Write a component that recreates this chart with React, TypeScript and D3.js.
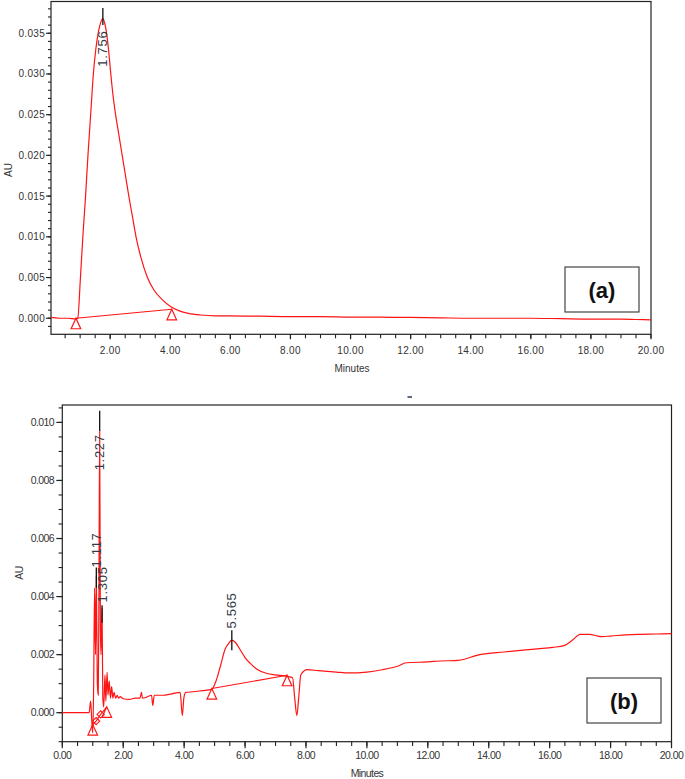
import React from "react";
import * as d3 from "d3";

// ---------- Chart (a) data ----------
const timeA = [0.03, 0.3, 0.6, 0.85, 0.92, 1.01, 1.09, 1.18, 1.26, 1.35, 1.44, 1.52, 1.61, 1.69, 1.756, 1.82, 1.88, 1.95, 2.02, 2.1, 2.18, 2.29, 2.4, 2.51, 2.62, 2.74, 2.86, 3.02, 3.24, 3.45, 3.74, 4.02, 4.3, 4.6, 5.0, 5.5, 6.0, 7.0, 8.0, 9.0, 10.0, 11.0, 12.0, 13.0, 14.0, 15.0, 16.0, 17.0, 18.0, 19.0, 19.5, 20.0];
const auA = [0.0001, 0.0, 0.0, -0.0001, 0.0, 0.005, 0.01, 0.015, 0.02, 0.025, 0.03, 0.033, 0.0352, 0.0364, 0.0368, 0.0362, 0.035, 0.0328, 0.03, 0.0272, 0.025, 0.0225, 0.02, 0.0175, 0.015, 0.0125, 0.01, 0.0075, 0.005, 0.0035, 0.00225, 0.0014, 0.0009, 0.0006, 0.0004, 0.0003, 0.0003, 0.00025, 0.0002, 0.0002, 0.00015, 0.00015, 0.0001, 0.00005, 0.0, 0.0, 0.0, -0.00005, -0.0001, -0.0001, -0.00015, -0.0002];
const baselineTimeA = [0.86, 4.05];
const baselineAuA = [0.0, 0.0011];
const yTickLabelsA = [0, 0.005, 0.01, 0.015, 0.02, 0.025, 0.03, 0.035];
const xTickLabelsA = [2, 4, 6, 8, 10, 12, 14, 16, 18, 20];
const peakA = [{ rt: 1.756, label: "1.756", tickTop: 0.0381, tickBot: 0.036, labelLo: 0.0309 }];

// ---------- Chart (b) data ----------
const timeB = [0.0, 0.5, 0.88, 0.93, 0.97, 1.0, 1.03, 1.06, 1.09, 1.117, 1.15, 1.18, 1.2, 1.227, 1.25, 1.27, 1.305, 1.33, 1.36, 1.4, 1.43, 1.47, 1.5, 1.54, 1.58, 1.62, 1.66, 1.7, 1.75, 1.8, 1.85, 1.9, 2.0, 2.2, 2.4, 2.55, 2.6, 2.63, 2.8, 2.93, 2.97, 3.02, 3.3, 3.6, 3.87, 3.94, 3.99, 4.05, 4.3, 4.6, 4.9, 5.05, 5.19, 5.35, 5.47, 5.565, 5.7, 5.85, 6.0, 6.17, 6.39, 6.72, 7.0, 7.38, 7.56, 7.63, 7.7, 7.76, 7.83, 8.04, 8.4, 9.0, 9.4, 10.0, 10.5, 11.0, 11.3, 12.0, 12.4, 13.0, 13.7, 14.5, 15.6, 16.1, 16.49, 16.75, 17.0, 17.3, 17.7, 18.0, 18.5, 18.9, 19.5, 20.0];
const auB = [0.0, 0.0, 0.0, 0.0004, -0.0003, -0.0007, 0.001, 0.0043, 0.002, 0.0047, 0.001, 0.0006, 0.0035, 0.0097, 0.003, 0.002, 0.0036, 0.0005, 0.0002, 0.0013, 0.0004, 0.0014, 0.0006, 0.0011, 0.0005, 0.0009, 0.0005, 0.0007, 0.0005, 0.0006, 0.0005, 0.00055, 0.00048, 0.00046, 0.0005, 0.0005, 0.0007, 0.0005, 0.00055, 0.0006, 0.00025, 0.0006, 0.0006, 0.00065, 0.0007, -0.0001, 0.0005, 0.0007, 0.00072, 0.00076, 0.0008, 0.0011, 0.0016, 0.0022, 0.0024, 0.0025, 0.0024, 0.00215, 0.0019, 0.0017, 0.0015, 0.00135, 0.0013, 0.00125, 0.0012, 0.0005, -0.0001, 0.0005, 0.0013, 0.00148, 0.00145, 0.0014, 0.00137, 0.0014, 0.00148, 0.0016, 0.00172, 0.00175, 0.00178, 0.0018, 0.002, 0.00209, 0.0022, 0.00225, 0.00232, 0.0025, 0.0027, 0.0027, 0.00262, 0.00264, 0.00268, 0.0027, 0.00271, 0.00272];
const baselineTimeB1 = [1.0, 1.11, 1.26, 1.46];
const baselineAuB1 = [-0.00041, -0.00029, -0.00006, 0.0002];
const baselineTimeB2 = [4.91, 7.38];
const baselineAuB2 = [0.00083, 0.00129];
const triangleB = [
  { t: 1.0, v: -0.00041 },
  { t: 1.46, v: 0.0002 },
  { t: 4.91, v: 0.00083 },
  { t: 7.38, v: 0.00129 },
];
const diamondB = [
  { t: 1.11, v: -0.00029 },
  { t: 1.26, v: -0.00006 },
];
const yTickLabelsB = [0, 0.002, 0.004, 0.006, 0.008, 0.01];
const xTickLabelsB = [0, 2, 4, 6, 8, 10, 12, 14, 16, 18, 20];
const peakB = [
  { rt: 1.227, label: "1.227", tickTop: 0.0104, tickBot: 0.0097, labelLo: 0.00835 },
  { rt: 1.117, label: "1.117", tickTop: 0.005, tickBot: 0.0043, labelLo: 0.005 },
  { rt: 1.305, label: "1.305", tickTop: 0.0037, tickBot: 0.0031, labelLo: 0.0038 },
  { rt: 5.565, label: "5.565", tickTop: 0.00284, tickBot: 0.00215, labelLo: 0.0029 },
];

const RED = "#ff1414";
const AXIS = "#222";
const FONT = "'Liberation Sans', Arial, sans-serif";

type Cfg = {
  x: d3.ScaleLinear<number, number>;
  y: d3.ScaleLinear<number, number>;
  yMajor: number[];
  yMinorStep: number;
  xMajor: number[];
  xMinorStep: number;
  yLabelX: number;
  yMajorLen: number;
  yMinorLen: number;
  xMajorLen: number;
  xMinorLen: number;
  xLabelY: number;
  fontSize: number;
  letterSpacing: number;
  xFmt: (v: number) => string;
};

function Axes({ c }: { c: Cfg }) {
  const [x0, x1] = c.x.range();
  const [y0, y1] = c.y.range();
  const [dy0, dy1] = c.y.domain();
  const [dx0, dx1] = c.x.domain();
  const yMinor = d3.range(Math.ceil(dy0 / c.yMinorStep - 1e-6) * c.yMinorStep, dy1 + 1e-9, c.yMinorStep);
  const xMinor = d3.range(Math.ceil(dx0 / c.xMinorStep - 1e-6) * c.xMinorStep, dx1 + 1e-9, c.xMinorStep);
  const fmtY = d3.format(".3f");
  return (
    <g>
      <rect x={x0} y={y1} width={x1 - x0} height={y0 - y1} fill="none" stroke={AXIS} strokeWidth={1.2} />
      {yMinor.map((v, i) => (
        <line key={"ym" + i} x1={x0 - c.yMinorLen} x2={x0} y1={c.y(v)} y2={c.y(v)} stroke={AXIS} strokeWidth={1.1} />
      ))}
      {c.yMajor.map((v, i) => (
        <g key={"yM" + i}>
          <line x1={x0 - c.yMajorLen} x2={x0} y1={c.y(v)} y2={c.y(v)} stroke={AXIS} strokeWidth={1.2} />
          <text x={c.yLabelX} y={c.y(v)} dy="0.35em" textAnchor="end" fontSize={c.fontSize} letterSpacing={c.letterSpacing} fill="#333" fontFamily={FONT}>
            {fmtY(v)}
          </text>
        </g>
      ))}
      {xMinor.map((v, i) => (
        <line key={"xm" + i} x1={c.x(v)} x2={c.x(v)} y1={y0} y2={y0 + c.xMinorLen} stroke={AXIS} strokeWidth={1.1} />
      ))}
      {c.xMajor.map((v, i) => (
        <g key={"xM" + i}>
          <line x1={c.x(v)} x2={c.x(v)} y1={y0} y2={y0 + c.xMajorLen} stroke={AXIS} strokeWidth={1.2} />
          <text x={c.x(v)} y={c.xLabelY} dy="0.35em" textAnchor="middle" fontSize={c.fontSize} letterSpacing={c.letterSpacing} fill="#333" fontFamily={FONT}>
            {c.xFmt(v)}
          </text>
        </g>
      ))}
    </g>
  );
}

function triPath(px: number, py: number) {
  return `M${px},${py} L${px - 4.8},${py + 10.5} L${px + 4.8},${py + 10.5} Z`;
}
function diaPath(px: number, py: number) {
  return `M${px},${py - 3.6} L${px + 3.6},${py} L${px},${py + 3.6} L${px - 3.6},${py} Z`;
}

export default function App() {
  // ---- scales (a)
  const xA = d3.scaleLinear().domain([0.03, 20]).range([51, 651]);
  const yA = d3.scaleLinear().domain([-0.00197, 0.0389]).range([334.3, 1.5]);
  // ---- scales (b)
  const xB = d3.scaleLinear().domain([0, 20]).range([62.3, 671.5]);
  const yB = d3.scaleLinear().domain([-0.001, 0.0106]).range([741.7, 405]);

  const lineA = d3
    .line<number>()
    .x((_, i) => xA(timeA[i]))
    .y((d) => yA(d))
    .curve(d3.curveMonotoneX);
  const lineB = d3
    .line<number>()
    .x((_, i) => xB(timeB[i]))
    .y((d) => yB(d))
    .curve(d3.curveMonotoneX);

  const segLine = (xs: number[], ys: number[], x: any, y: any) =>
    d3.line<number>().x((_, i) => x(xs[i])).y((d) => y(d))(ys) || "";

  const fmt2 = d3.format(".2f");

  const cfgA: Cfg = {
    x: xA, y: yA, yMajor: yTickLabelsA, yMinorStep: 0.001, xMajor: xTickLabelsA, xMinorStep: 0.5,
    yLabelX: 45, yMajorLen: 5, yMinorLen: 3, xMajorLen: 5, xMinorLen: 4, xLabelY: 350,
    fontSize: 10, letterSpacing: 0.3, xFmt: fmt2,
  };
  const cfgB: Cfg = {
    x: xB, y: yB, yMajor: yTickLabelsB, yMinorStep: 0.0005, xMajor: xTickLabelsB, xMinorStep: 0.5,
    yLabelX: 54, yMajorLen: 6, yMinorLen: 3.7, xMajorLen: 6.5, xMinorLen: 4.3, xLabelY: 755.5,
    fontSize: 10.5, letterSpacing: -0.6, xFmt: fmt2,
  };

  const peakLabel = (p: any, x: any, y: any, key: string) => (
    <g key={key}>
      <line x1={x(p.rt)} x2={x(p.rt)} y1={y(p.tickTop)} y2={y(p.tickBot)} stroke="#111" strokeWidth={1.3} />
      <text
        transform={`translate(${x(p.rt) + 4.6},${y(p.labelLo)}) rotate(-90)`}
        textAnchor="start"
        fontSize={13}
        letterSpacing={0.7}
        fill="#333a44"
        fontFamily={FONT}
      >
        {p.label}
      </text>
    </g>
  );

  return (
    <svg width={685} height={779} style={{ position: "absolute", left: 0, top: 0, background: "#fff" }}>
      {/* ---------- (a) ---------- */}
      <Axes c={cfgA} />
      <path d={lineA(auA) || ""} fill="none" stroke={RED} strokeWidth={1.2} />
      <path d={segLine(baselineTimeA, baselineAuA, xA, yA)} fill="none" stroke={RED} strokeWidth={1.1} />
      {baselineTimeA.map((t, i) => (
        <path key={"ta" + i} d={triPath(xA(t), yA(baselineAuA[i]))} fill="#fff" stroke={RED} strokeWidth={1.2} />
      ))}
      {peakA.map((p, i) => peakLabel(p, xA, yA, "pa" + i))}
      <text transform="translate(12,170) rotate(-90)" textAnchor="middle" fontSize={10} fill="#333" fontFamily={FONT}>AU</text>
      <text x={352} y={368} dy="0.35em" textAnchor="middle" fontSize={10} fill="#333" fontFamily={FONT}>Minutes</text>
      <rect x={565} y={267} width={74} height={45} fill="#fff" stroke="#444" strokeWidth={1.2} />
      <text x={602} y={290} dy="0.36em" textAnchor="middle" fontSize={22} fontWeight="bold" fill="#111" fontFamily={FONT}>(a)</text>

      <line x1={407.5} x2={412} y1={397} y2={397} stroke="#2a3a55" strokeWidth={1.5} />

      {/* ---------- (b) ---------- */}
      <Axes c={cfgB} />
      <path d={lineB(auB) || ""} fill="none" stroke={RED} strokeWidth={1.2} />
      <path d={segLine(baselineTimeB1, baselineAuB1, xB, yB)} fill="none" stroke={RED} strokeWidth={1.1} />
      <path d={segLine(baselineTimeB2, baselineAuB2, xB, yB)} fill="none" stroke={RED} strokeWidth={1.1} />
      {triangleB.map((p, i) => (
        <path key={"tb" + i} d={triPath(xB(p.t), yB(p.v))} fill="#fff" fillOpacity={0} stroke={RED} strokeWidth={1.2} />
      ))}
      {diamondB.map((p, i) => (
        <path key={"db" + i} d={diaPath(xB(p.t), yB(p.v))} fill="none" stroke={RED} strokeWidth={1.1} />
      ))}
      {peakB.map((p, i) => peakLabel(p, xB, yB, "pb" + i))}
      <text transform="translate(23,573) rotate(-90)" textAnchor="middle" fontSize={10.5} letterSpacing={-0.5} fill="#333" fontFamily={FONT}>AU</text>
      <text x={367} y={773} dy="0.35em" textAnchor="middle" fontSize={10.5} letterSpacing={-0.6} fill="#333" fontFamily={FONT}>Minutes</text>
      <rect x={587} y={678} width={74} height={45} fill="#fff" stroke="#444" strokeWidth={1.2} />
      <text x={624} y={701} dy="0.36em" textAnchor="middle" fontSize={22} fontWeight="bold" fill="#111" fontFamily={FONT}>(b)</text>
    </svg>
  );
}
